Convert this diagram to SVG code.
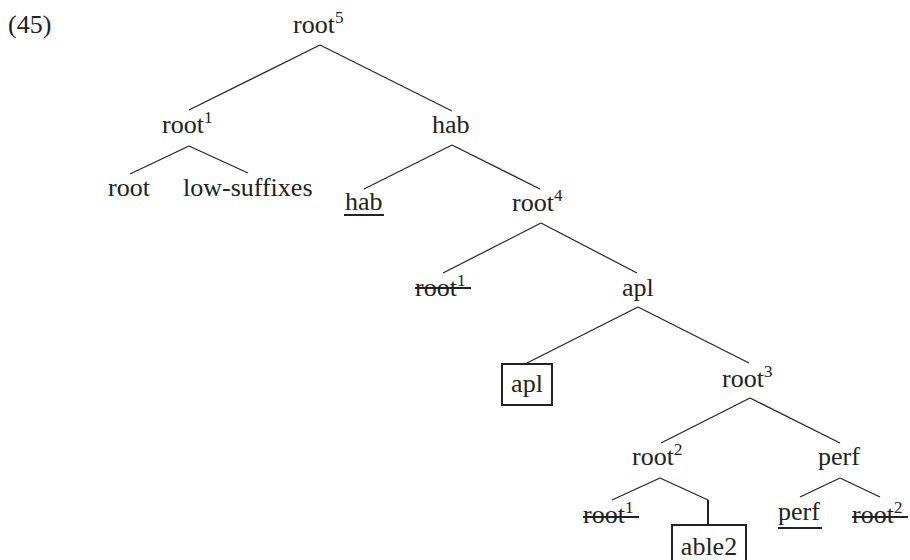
<svg xmlns="http://www.w3.org/2000/svg" width="910" height="560" viewBox="0 0 910 560">
<style>
text{font-family:"Liberation Serif","Times New Roman",serif;font-size:26px;fill:#222}
.sup{font-size:17px}
.m{text-anchor:middle}
line,.box{stroke:#222;stroke-width:1.2;fill:none}
.bx{stroke:#222;stroke-width:2;fill:none}
.u{stroke:#222;stroke-width:2}
</style>
<rect width="910" height="560" fill="#fff"/>
<text x="8" y="33">(45)</text>
<g id="connectors">
<line x1="320" y1="45" x2="189" y2="110"/>
<line x1="320" y1="45" x2="452" y2="111"/>
<line x1="189" y1="146" x2="130" y2="174"/>
<line x1="189" y1="146" x2="248" y2="173"/>
<line x1="452" y1="145" x2="364" y2="189"/>
<line x1="452" y1="145" x2="540" y2="189"/>
<line x1="541" y1="223" x2="443" y2="273"/>
<line x1="541" y1="223" x2="637" y2="273"/>
<line x1="638" y1="307" x2="527" y2="363"/>
<line x1="638" y1="307" x2="749" y2="363"/>
<line x1="750" y1="398" x2="661" y2="443"/>
<line x1="750" y1="398" x2="840" y2="443"/>
<line x1="660" y1="478" x2="612" y2="500"/>
<line x1="660" y1="478" x2="708" y2="500"/>
<line x1="708" y1="500" x2="708" y2="525" style="stroke-width:2"/>
<line x1="840" y1="478" x2="800" y2="497"/>
<line x1="840" y1="478" x2="880" y2="497"/>
</g>
<g id="n-root5"><text x="293" y="33">root<tspan class="sup" dy="-10">5</tspan></text></g>
<g id="n-root1"><text x="162" y="133">root<tspan class="sup" dy="-10">1</tspan></text></g>
<g id="n-hab"><text x="432" y="133">hab</text></g>
<g id="n-root"><text x="108" y="196">root</text></g>
<g id="n-lowsuffixes"><text x="183" y="196">low-suffixes</text></g>
<g id="n-hab-u"><text x="345" y="210">hab</text><line class="u" x1="344" y1="215" x2="384" y2="215"/></g>
<g id="n-root4"><text x="512" y="211">root<tspan class="sup" dy="-10">4</tspan></text></g>
<g id="n-root1-s"><text x="415" y="296">root<tspan class="sup" dy="-10">1</tspan></text><line class="u" x1="415" y1="288" x2="471" y2="288"/></g>
<g id="n-apl"><text x="622" y="296">apl</text></g>
<g id="n-apl-box"><rect class="bx" x="502" y="364" width="50" height="41"/><text class="m" x="527" y="392">apl</text></g>
<g id="n-root3"><text x="722" y="387">root<tspan class="sup" dy="-10">3</tspan></text></g>
<g id="n-root2"><text x="632" y="465">root<tspan class="sup" dy="-10">2</tspan></text></g>
<g id="n-perf"><text x="818" y="465">perf</text></g>
<g id="n-root1-s2"><text x="583" y="523">root<tspan class="sup" dy="-10">1</tspan></text><line class="u" x1="583" y1="517" x2="639" y2="517"/></g>
<g id="n-perf-u"><text x="778" y="520">perf</text><line class="u" x1="778" y1="528" x2="822" y2="528"/></g>
<g id="n-root2-s"><text x="852" y="523">root<tspan class="sup" dy="-10">2</tspan></text><line class="u" x1="852" y1="517" x2="908" y2="517"/></g>
<g id="n-able2"><rect class="bx" x="672" y="525" width="74" height="45"/><text class="m" x="709" y="555">able2</text></g>
</svg>
